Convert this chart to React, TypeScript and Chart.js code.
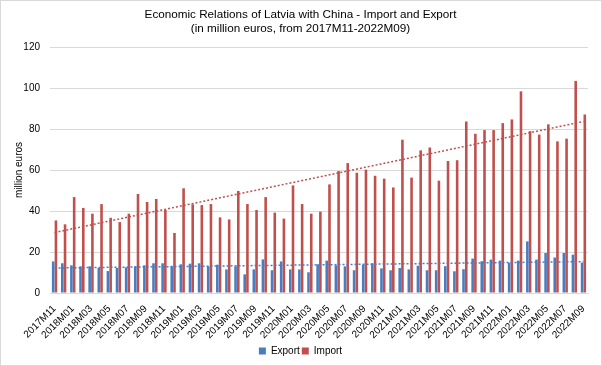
import React, { useEffect, useRef } from "react";
import { Chart, registerables } from "chart.js";

Chart.register(...registerables);

const categories = [
  "2017M11", "2017M12",
  "2018M01", "2018M02", "2018M03", "2018M04", "2018M05", "2018M06", "2018M07", "2018M08", "2018M09", "2018M10", "2018M11", "2018M12",
  "2019M01", "2019M02", "2019M03", "2019M04", "2019M05", "2019M06", "2019M07", "2019M08", "2019M09", "2019M10", "2019M11", "2019M12",
  "2020M01", "2020M02", "2020M03", "2020M04", "2020M05", "2020M06", "2020M07", "2020M08", "2020M09", "2020M10", "2020M11", "2020M12",
  "2021M01", "2021M02", "2021M03", "2021M04", "2021M05", "2021M06", "2021M07", "2021M08", "2021M09", "2021M10", "2021M11", "2021M12",
  "2022M01", "2022M02", "2022M03", "2022M04", "2022M05", "2022M06", "2022M07", "2022M08", "2022M09",
];

const exportValues = [
  15.4, 14.5, 13.5, 13.0, 13.0, 12.2, 10.7, 12.2, 12.5, 13.0,
  13.5, 14.5, 14.5, 13.0, 14.0, 14.3, 14.5, 13.0, 13.8, 11.5,
  13.0, 9.1, 11.5, 16.4, 11.1, 15.4, 11.5, 11.5, 10.1, 14.0,
  15.8, 13.5, 13.0, 11.1, 13.8, 14.5, 12.0, 11.1, 12.2, 11.5,
  13.3, 11.1, 11.1, 13.1, 10.6, 11.6, 16.8, 15.5, 16.3, 15.8,
  14.8, 15.8, 25.2, 16.3, 19.5, 17.3, 19.5, 18.7, 14.8,
];

const importValues = [
  35.4, 33.5, 46.8, 41.5, 38.7, 43.4, 36.7, 34.6, 38.7, 48.3,
  44.4, 45.9, 40.5, 29.3, 51.1, 43.3, 42.9, 43.4, 36.9, 35.9,
  49.8, 43.4, 40.5, 46.8, 39.2, 36.3, 52.5, 43.4, 38.7, 39.7,
  53.0, 59.5, 63.4, 58.7, 60.2, 57.2, 55.8, 51.5, 74.8, 56.3,
  69.6, 71.0, 54.8, 64.4, 64.8, 83.7, 77.7, 79.5, 79.5, 82.9,
  84.7, 98.4, 79.0, 77.3, 82.3, 74.0, 75.3, 103.5, 87.1,
];

// Linear trendline endpoints (first and last month)
const exportTrend = [12.2, 15.3];
const importTrend = [29.5, 83.7];

const yTicks = [0, 20, 40, 60, 80, 100, 120];

const FONT = "'Liberation Sans', Arial, sans-serif";

const borderPlugin = {
  id: "outerBorder",
  afterDraw(chart: any) {
    const ctx = chart.ctx;
    ctx.save();
    ctx.strokeStyle = "#d9d9d9";
    ctx.lineWidth = 1;
    ctx.strokeRect(0.5, 0.5, chart.width - 1, chart.height - 1);
    ctx.restore();
  },
};

export default function App() {
  const ref = useRef<HTMLCanvasElement | null>(null);

  useEffect(() => {
    document.body.style.margin = "0";
    if (!ref.current) return;
    const first = categories[0];
    const last = categories[categories.length - 1];
    const chart = new Chart(ref.current, {
      type: "bar",
      data: {
        labels: categories,
        datasets: [
          {
            label: "Export",
            data: exportValues,
            backgroundColor: "#4A7CC0",
            borderWidth: 0,
            categoryPercentage: 0.6,
            barPercentage: 0.95,
            order: 2,
          },
          {
            label: "Import",
            data: importValues,
            backgroundColor: "#C0504D",
            borderWidth: 0,
            categoryPercentage: 0.6,
            barPercentage: 0.95,
            order: 2,
          },
          {
            type: "line",
            label: "ExportTrend",
            data: [
              { x: first, y: exportTrend[0] },
              { x: last, y: exportTrend[1] },
            ],
            borderColor: "#4A7CC0",
            borderWidth: 1.5,
            borderDash: [2, 2],
            pointRadius: 0,
            fill: false,
            order: 1,
          } as any,
          {
            type: "line",
            label: "ImportTrend",
            data: [
              { x: first, y: importTrend[0] },
              { x: last, y: importTrend[1] },
            ],
            borderColor: "#C0504D",
            borderWidth: 1.5,
            borderDash: [2, 2],
            pointRadius: 0,
            fill: false,
            order: 1,
          } as any,
        ],
      },
      options: {
        animation: false,
        responsive: false,
        maintainAspectRatio: false,
        layout: { padding: { left: 13, right: 14, top: 8, bottom: 0 } },
        plugins: {
          title: {
            display: true,
            text: [
              "Economic Relations of Latvia with China - Import and Export",
              "(in million euros, from 2017M11-2022M09)",
            ],
            color: "#000",
            font: { family: FONT, size: 11.7, weight: "normal" },
            lineHeight: 1.2,
            padding: { top: 0, bottom: 11 },
          },
          legend: {
            position: "bottom",
            labels: {
              color: "#000",
              font: { family: FONT, size: 10 },
              boxWidth: 7,
              boxHeight: 7,
              padding: 2,
              filter: (item: any) => item.text === "Export" || item.text === "Import",
            },
          },
          tooltip: { enabled: false },
        },
        scales: {
          x: {
            type: "category",
            grid: { display: false },
            border: { display: true, color: "#d9d9d9" },
            afterFit: (scale: any) => {
              scale.height = 51;
            },
            ticks: {
              autoSkip: false,
              maxRotation: 45,
              minRotation: 45,
              color: "#000",
              font: { family: FONT, size: 10 },
              padding: 2,
              callback: (_v: any, i: number) => (i % 2 === 0 ? categories[i] : ""),
            },
          },
          y: {
            min: 0,
            max: 120,
            afterBuildTicks: (scale: any) => {
              scale.ticks = yTicks.map((v) => ({ value: v }));
            },
            afterFit: (scale: any) => {
              scale.width = 37;
            },
            grid: { color: "#d9d9d9", drawTicks: false },
            border: { display: false },
            ticks: {
              color: "#000",
              font: { family: FONT, size: 10 },
              padding: 10,
            },
            title: {
              display: true,
              text: "million euros",
              color: "#000",
              font: { family: FONT, size: 10 },
              padding: 0,
            },
          },
        },
      },
      plugins: [borderPlugin],
    });
    return () => chart.destroy();
  }, []);

  return <canvas ref={ref} width={602} height={366} style={{ display: "block" }} />;
}
